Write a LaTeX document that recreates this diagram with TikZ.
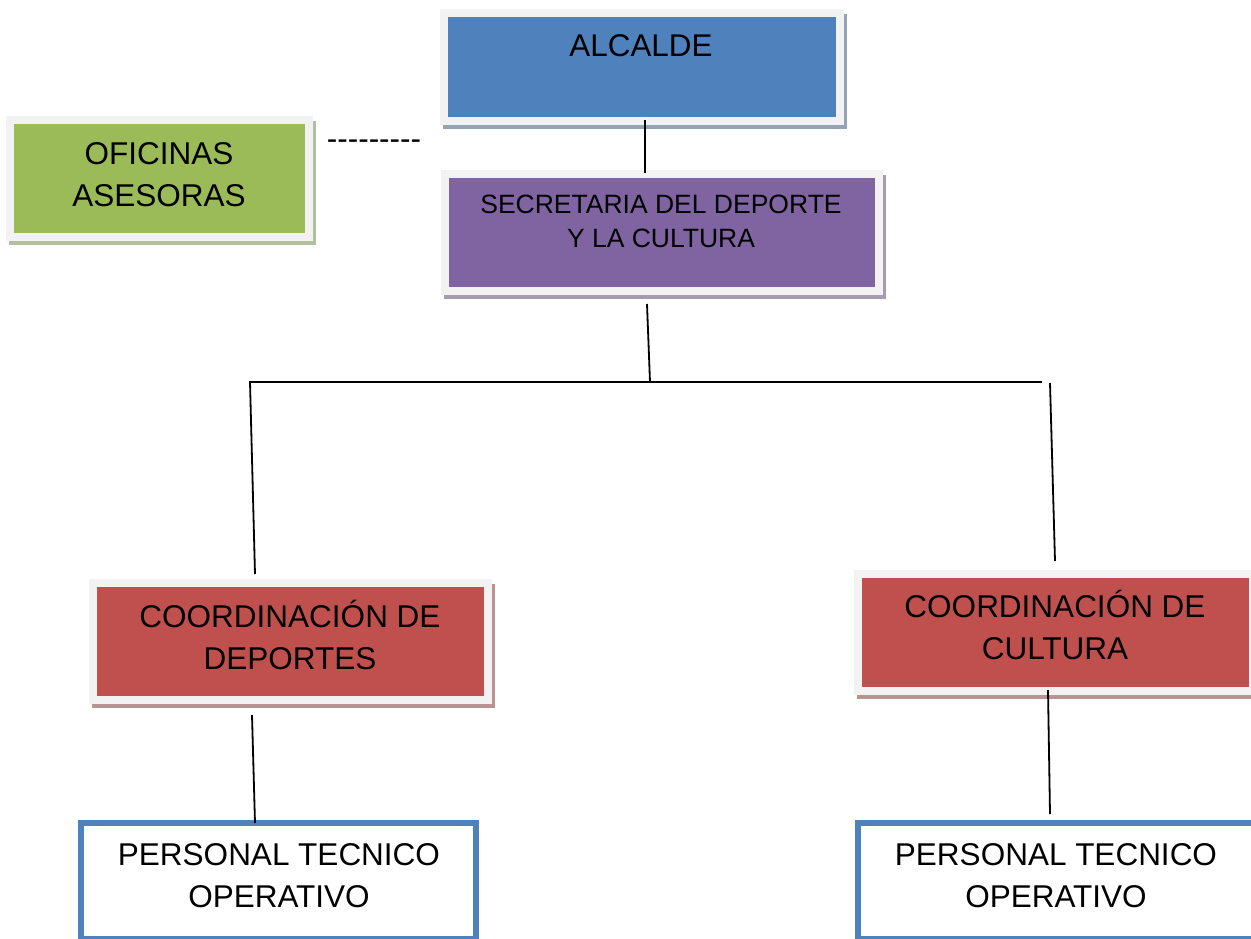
\documentclass[tikz,border=0pt]{standalone}
\usepackage{fontspec}
\setmainfont{Liberation Sans}
\definecolor{frame}{HTML}{F2F2F2}
\definecolor{cblue}{HTML}{4F81BD}
\definecolor{cpurple}{HTML}{8064A2}
\definecolor{cgreen}{HTML}{9BBB59}
\definecolor{cred}{HTML}{C0504D}
\definecolor{sblue}{HTML}{95A3B6}
\definecolor{spurple}{HTML}{A69CB2}
\definecolor{sgreen}{HTML}{B3C09E}
\definecolor{sred}{HTML}{B99392}
\tikzset{
  boxfr/.style={rectangle, draw=frame, line width=8pt, inner sep=0pt, outer sep=0pt},
  persbox/.style={rectangle, draw=cblue, fill=white, line width=6.5pt, inner sep=0pt, outer sep=0pt},
  txt/.style={inner sep=0pt, outer sep=0pt, align=center, font=\fontsize{31.5}{42}\selectfont},
  conn/.style={line width=1.8pt, black},
}
\newcommand\mkbox[7]{% name, x1,y1,x2,y2 (stroke midline), fill, shadow
  \fill[#7] (#2-1,#3+1) rectangle (#4+7,#5+8);
  \node[boxfr, fill=#6, minimum width=#4-#2, minimum height=#5-#3] (#1) at ({(#2+#4)/2},{(#3+#5)/2}) {};
}
\begin{document}
\begin{tikzpicture}[x=1pt,y=-1pt]
\useasboundingbox (0,0) rectangle (1251,939);
\fill[white] (0,0) rectangle (1251,939);
\clip (0,0) rectangle (1251,939);

% boxes
\mkbox{alc}{444}{13}{839.5}{121}{cblue}{sblue}
\mkbox{sec}{445}{174}{879}{291}{cpurple}{spurple}
\mkbox{ofi}{10}{120}{309}{237}{cgreen}{sgreen}
\mkbox{cdep}{93}{583}{488}{700}{cred}{sred}
\mkbox{ccul}{858}{574}{1253}{691}{cred}{sred}
\node[persbox, minimum width=395pt, minimum height=116pt] (pdep) at (278.5,881) {};
\node[persbox, minimum width=400pt, minimum height=116pt] (pcul) at (1058,881) {};

% texts (anchor=base is the baseline of the last line)
\node[txt, anchor=base, font=\fontsize{31.4}{38}\selectfont] (alcT) at (641,57) {ALCALDE};
\node[txt, anchor=base, font=\fontsize{26.5}{34}\selectfont] (secT) at (661,247) {SECRETARIA DEL DEPORTE\\Y LA CULTURA};
\node[txt, anchor=base] (ofiT) at (159,206) {OFICINAS\\ASESORAS};
\node[txt, anchor=base] (dash) at (374,150) {-\kern0pt-\kern0pt-\kern0pt-\kern0pt-\kern0pt-\kern0pt-\kern0pt-\kern0pt-};
\node[txt, anchor=base] (cdepT) at (290,669) {COORDINACIÓN DE\\DEPORTES};
\node[txt, anchor=base] (cculT) at (1055,659) {COORDINACIÓN DE\\CULTURA};
\node[txt, anchor=base] (pdepT) at (279,907) {PERSONAL TECNICO\\OPERATIVO};
\node[txt, anchor=base] (pculT) at (1056,907) {PERSONAL TECNICO\\OPERATIVO};

% connector end points
\coordinate (a1) at (645,120);
\coordinate (a2) at (645,173);
\coordinate (s1) at (647,304);
\coordinate (s2) at (650,382);
\coordinate (hl) at (249,382);
\coordinate (hr) at (1042,382);
\coordinate (l1) at (250,382);
\coordinate (l2) at (255,574);
\coordinate (r1) at (1050,383);
\coordinate (r2) at (1055,561);
\coordinate (d1) at (252,715);
\coordinate (d2) at (255,823);
\coordinate (c1) at (1048,690);
\coordinate (c2) at (1050,814);

\draw[conn] (a1) -- (a2);
\draw[conn] (s1) -- (s2);
\draw[conn] (hl) -- (hr);
\draw[conn] (l1) -- (l2);
\draw[conn] (r1) -- (r2);
\draw[conn] (d1) -- (d2);
\draw[conn] (c1) -- (c2);
\end{tikzpicture}
\end{document}
